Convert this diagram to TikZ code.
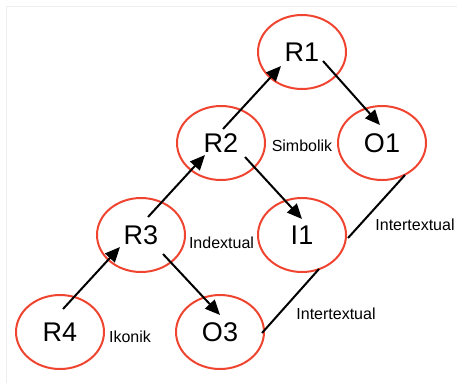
\documentclass[tikz,border=0pt]{standalone}
\usepackage{fontspec}
\setmainfont{Liberation Sans}
\usetikzlibrary{arrows.meta}
\definecolor{ellred}{HTML}{EE4430}
\definecolor{framegray}{HTML}{EEEEEE}
\tikzset{
  state/.style={draw=ellred, line width=2pt, ellipse, minimum width=88pt, minimum height=74pt, inner sep=0pt, font=\fontsize{27}{29}\selectfont},
  lbl/.style={font=\fontsize{16}{18}\selectfont, inner sep=0pt},
  arr/.style={line width=2pt, -{Triangle[length=15pt, width=13pt]}},
  lnk/.style={line width=2pt}
}
\usetikzlibrary{shapes.geometric}
\begin{document}
\begin{tikzpicture}[x=1pt, y=-1pt]
\useasboundingbox (0,0) rectangle (457,383);
\draw[framegray, line width=1pt] (6,383) -- (6,6) -- (457,6);
\node[state] (R1) at (302,52) {R1};
\node[state] (O1) at (382,143) {O1};
\node[state] (R2) at (221,143) {R2};
\node[state] (I1) at (302,235) {I1};
\node[state] (R3) at (141,235) {R3};
\node[state] (R4) at (60,332) {R4};
\node[state] (O3) at (220,332) {O3};
\node[lbl] (Ls) at (302,146) {Simbolik};
\node[lbl] (Li) at (221.5,243) {Indextual};
\node[lbl] (Lk) at (130,337) {Ikonik};
\node[lbl] (Lt1) at (415,225) {Intertextual};
\node[lbl] (Lt2) at (336,314) {Intertextual};
\draw[arr] ([shift={(3,-23)}]R4.center) -- ([shift={(-21,12)}]R3.center);
\draw[arr] ([shift={(7,-18)}]R3.center) -- ([shift={(-16,12)}]R2.center);
\draw[arr] ([shift={(2,-14)}]R2.center) -- ([shift={(-21,14)}]R1.center);
\draw[arr] ([shift={(21,9)}]R1.center) -- ([shift={(-2,-18)}]O1.center);
\draw[arr] ([shift={(24,14)}]R2.center) -- ([shift={(0,-16)}]I1.center);
\draw[arr] ([shift={(22,19)}]R3.center) -- ([shift={(0,-17)}]O3.center);
\draw[lnk] ([shift={(23,32)}]O1.center) -- ([shift={(46,3)}]I1.center);
\draw[lnk] ([shift={(17,34)}]I1.center) -- ([shift={(42,1)}]O3.center);
\end{tikzpicture}
\end{document}
